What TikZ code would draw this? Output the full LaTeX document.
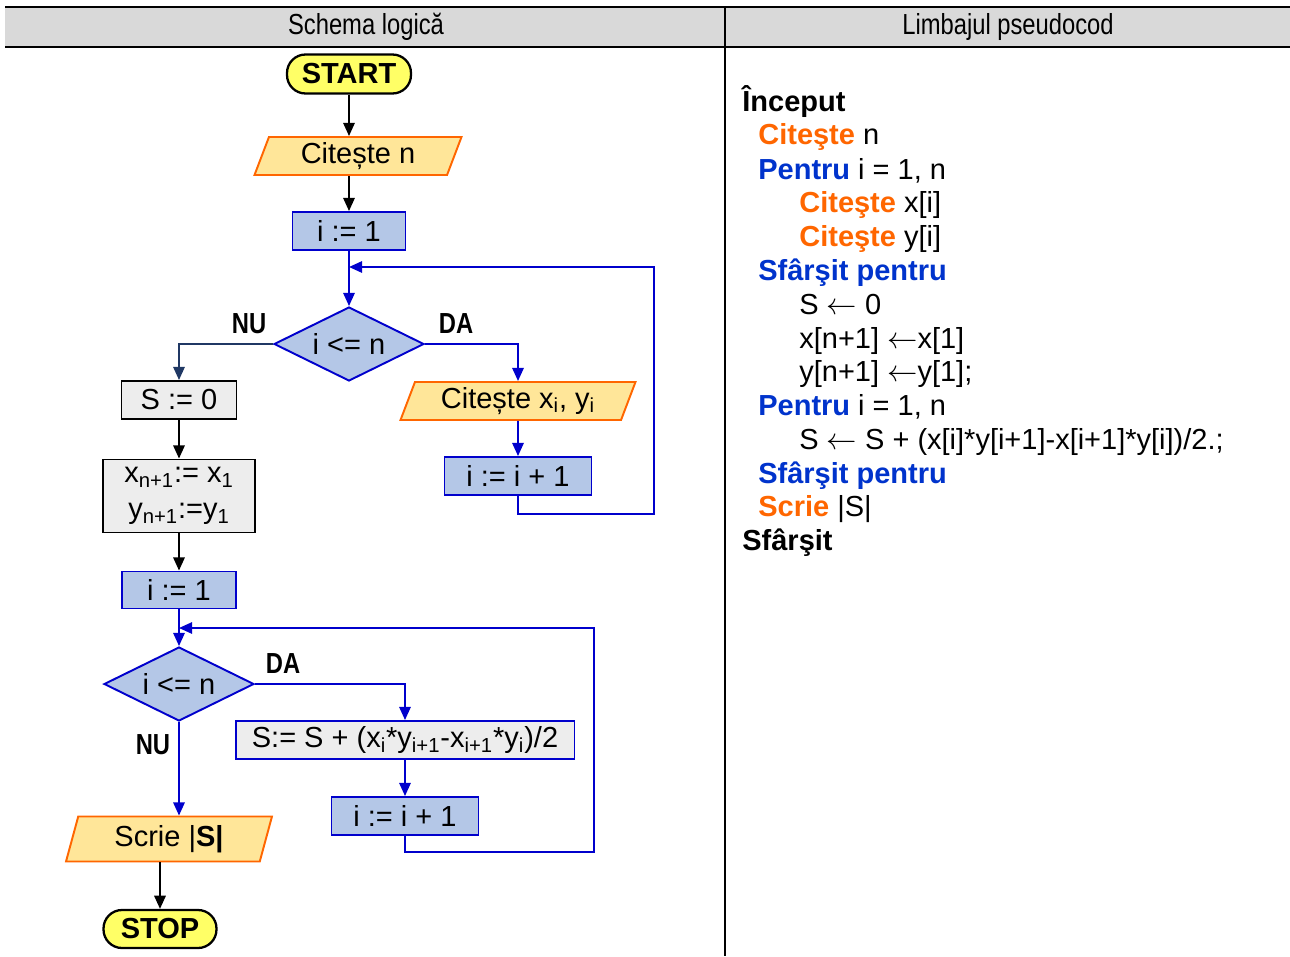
\documentclass[tikz,border=0pt]{standalone}
\usepackage{fontspec}
\setmainfont{Liberation Sans}
\newfontfamily\narrowfont[FakeStretch=0.82]{Liberation Sans}
\usepackage{tikz}
\usetikzlibrary{shapes.geometric,arrows.meta,calc}
\definecolor{hdrgray}{HTML}{D9D9D9}
\definecolor{boxgray}{HTML}{EDEDED}
\definecolor{boxblue}{HTML}{B4C7E7}
\definecolor{edgeblue}{HTML}{0000CC}
\definecolor{edgenavy}{HTML}{203864}
\definecolor{iofill}{HTML}{FFE699}
\definecolor{ioedge}{HTML}{FF6600}
\definecolor{termfill}{HTML}{FFFF66}
\definecolor{kworange}{HTML}{FF6600}
\definecolor{kwblue}{HTML}{0033CC}
\tikzset{every picture/.style={>={Triangle[length=7.5pt,width=6.5pt]}},
  term/.style={rectangle,rounded corners=0.37cm,draw=black,line width=1.3pt,fill=termfill,
    minimum width=2.48cm,minimum height=0.78cm,inner sep=0pt},
  io/.style={trapezium,trapezium left angle=62,trapezium right angle=118,
    trapezium stretches body,draw=ioedge,line width=1.1pt,fill=iofill,
    minimum height=0.76cm,inner xsep=2pt,inner ysep=0pt},
  blk/.style={rectangle,draw=edgeblue,line width=1.1pt,fill=boxblue,
    minimum width=2.26cm,minimum height=0.76cm,inner sep=0pt},
  gry/.style={rectangle,draw=black,line width=1.1pt,fill=boxgray,
    minimum width=2.3cm,minimum height=0.76cm,inner sep=0pt},
  dec/.style={diamond,aspect=2,draw=edgeblue,line width=1.1pt,fill=boxblue,
    minimum width=3cm,minimum height=1.48cm,inner sep=0pt},
  yn/.style={font=\narrowfont\bfseries\fontsize{16.5}{19}\selectfont},
  bline/.style={->,draw=edgeblue,line width=1.1pt},
  nline/.style={->,draw=edgenavy,line width=1.1pt},
  kline/.style={->,draw=black,line width=1.1pt},
  pcline/.style={anchor=base west,inner sep=0pt}}
\newcommand{\kwo}[1]{\textcolor{kworange}{\textbf{#1}}}
\newcommand{\kwb}[1]{\textcolor{kwblue}{\textbf{#1}}}
\newcommand{\sub}[1]{\textsubscript{#1}}

\begin{document}
\begin{tikzpicture}[x=0.02cm,y=-0.02cm,font=\fontsize{16.5}{19.2}\selectfont]
  \useasboundingbox (0,0) rectangle (1290,956);
  % table header and column rule
  \fill [hdrgray] (5,7) rectangle (1290,47);
  \draw [line width=1.6pt] (5,7) -- (1290,7);
  \draw [line width=1.6pt] (5,47) -- (1290,47);
  \draw [line width=1.6pt] (725,7) -- (725,956);
  \node (hl) at (366,27) {\narrowfont Schema logică};
  \node (hr) at (1008,27) {\narrowfont Limbajul pseudocod};

  % flowchart: reading loop
  \node [term] (start) at (349,74) {\textbf{START}};
  \node [io,minimum width=4.14cm] (rdn) at (358,156) {Citește n};
  \node [blk] (ia) at (349,231) {i := 1};
  \node [dec] (d1) at (349,344) {i <= n};
  \node [yn] (nu1) at (249,324) {NU};
  \node [yn] (da1) at (456,324) {DA};
  \node [gry] (s0) at (179,400) {S := 0};
  \node [io,minimum width=4.7cm] (rdxy) at (518,401) {Citește x\sub{i}, y\sub{i}};
  \node [blk,minimum width=2.94cm] (inc1) at (518,476) {i := i + 1};
  \node [gry,minimum width=3.04cm,minimum height=1.46cm,align=center] (xy) at (179,496)
    {x\sub{n+1}:= x\sub{1}\\[1.3pt]y\sub{n+1}:=y\sub{1}};
  \coordinate (j1) at (349,267);
  \coordinate (r1) at (654,514);

  % flowchart: area loop
  \node [blk,minimum width=2.28cm,minimum height=0.74cm] (ib) at (179,590) {i := 1};
  \node [dec] (d2) at (179,684) {i <= n};
  \node [yn] (da2) at (283,664) {DA};
  \node [yn] (nu2) at (153,745) {NU};
  \node [gry,draw=edgeblue,minimum width=6.78cm] (sum) at (405,740)
    {S:= S + (x\sub{i}*y\sub{i+1}-x\sub{i+1}*y\sub{i})/2};
  \node [blk,minimum width=2.94cm] (inc2) at (405,816) {i := i + 1};
  \node [io,trapezium left angle=66,trapezium right angle=114,
    minimum width=4.12cm,minimum height=0.9cm] (wr) at (169,839) {Scrie |\textbf{S|}};
  \node [term,minimum width=2.26cm,minimum height=0.76cm] (stop) at (160,929) {\textbf{STOP}};
  \coordinate (j2) at (179,628);
  \coordinate (r2) at (594,852);

  \draw [kline] (start) -- (start |- rdn.north);
  \draw [kline] (ia |- rdn.south) -- (ia);
  \draw [bline] (ia) -- (d1);
  \draw [bline] (d1.east) -| (rdxy);
  \draw [nline] (d1.west) -| (s0);
  \draw [bline] (rdxy) -- (inc1);
  \draw [bline] (inc1) |- (r1) |- (j1);
  \draw [kline] (s0) -- (xy);
  \draw [kline] (xy) -- (ib);
  \draw [bline] (ib) -- (d2);
  \draw [bline] (d2.east) -| (sum);
  \draw [bline] (sum) -- (inc2);
  \draw [bline] (inc2) |- (r2) |- (j2);
  \draw [bline] (d2.south) -- (d2.south |- wr.north);
  \draw [kline] (stop |- wr.south) -- (stop);

  % pseudocode column
  \node [pcline] (p1) at (742,112) {\textbf{Început}};
  \node [pcline] (p2) at (758,145) {\kwo{Citeşte} n};
  \node [pcline] (p3) at (758,179) {\kwb{Pentru} i = 1, n};
  \node [pcline] (p4) at (799,213) {\kwo{Citeşte} x[i]};
  \node [pcline] (p5) at (799,246) {\kwo{Citeşte} y[i]};
  \node [pcline] (p6) at (758,280) {\kwb{Sfârşit pentru}};
  \node [pcline] (p7) at (799,314) {S $\leftarrow$ 0};
  \node [pcline] (p8) at (799,348) {x[n+1] $\leftarrow$x[1]};
  \node [pcline] (p9) at (799,381) {y[n+1] $\leftarrow$y[1];};
  \node [pcline] (p10) at (758,415) {\kwb{Pentru} i = 1, n};
  \node [pcline] (p11) at (799,449) {S $\leftarrow$ S + (x[i]*y[i+1]-x[i+1]*y[i])/2.;};
  \node [pcline] (p12) at (758,483) {\kwb{Sfârşit pentru}};
  \node [pcline] (p13) at (758,516) {\kwo{Scrie} |S|};
  \node [pcline] (p14) at (742,550) {\textbf{Sfârşit}};
\end{tikzpicture}
\end{document}
